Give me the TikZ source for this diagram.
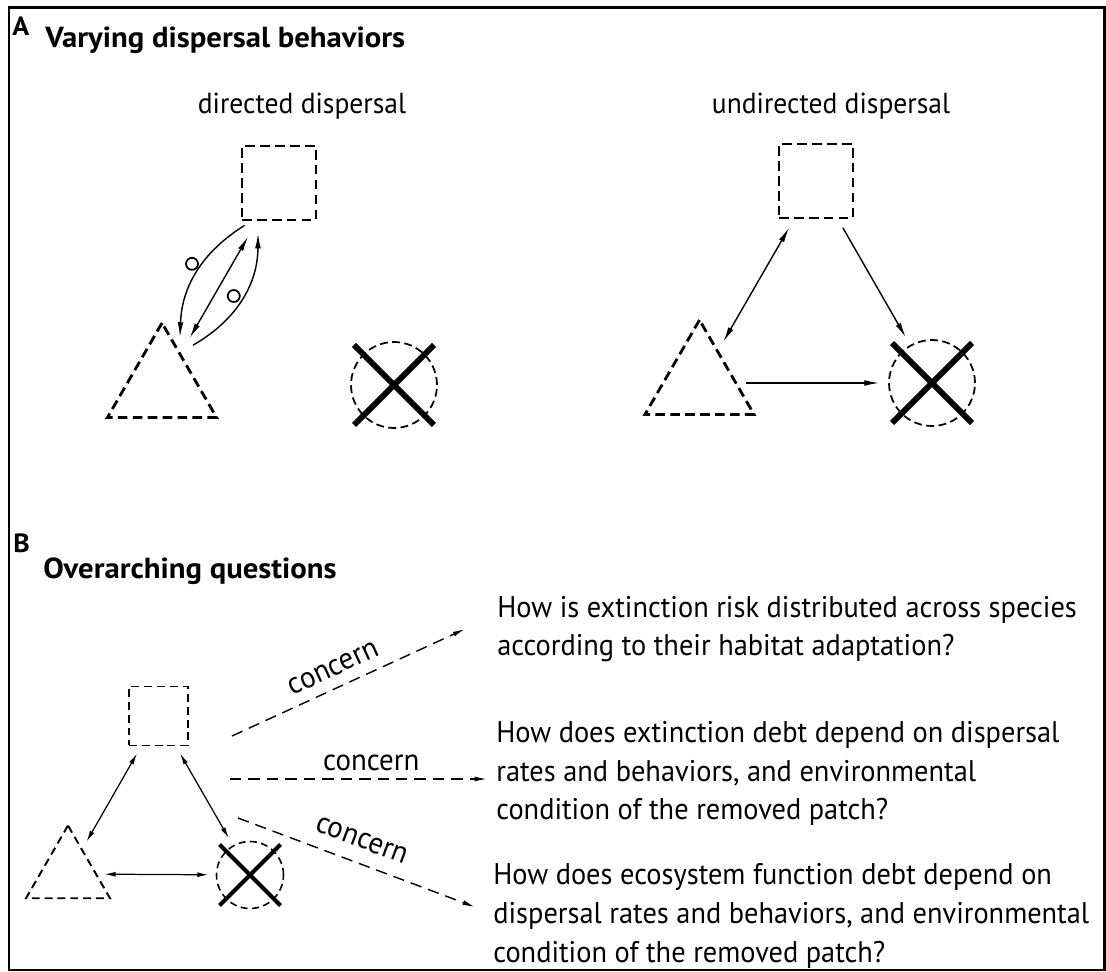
\documentclass[tikz,border=0pt]{standalone}
\usepackage{fontspec}
\setmainfont{PT Sans}[FakeStretch=0.95]
\newfontfamily\headfont{PT Sans}[FakeStretch=1.06]
\usetikzlibrary{arrows.meta, positioning, shapes.geometric}

\begin{document}
\begin{tikzpicture}[
    x=0.02cm, y=-0.02cm,
    patchA/.style={rectangle, draw, line width=1.6pt, dash pattern=on 5.5pt off 3pt, minimum size=1.48cm, inner sep=0pt},
    habA/.style={regular polygon, regular polygon sides=3, draw, line width=1.6pt, dash pattern=on 5.5pt off 3pt, minimum size=2.52cm, inner sep=0pt},
    lostA/.style={circle, draw, line width=1pt, dash pattern=on 4.5pt off 2.5pt, minimum size=1.72cm, inner sep=0pt},
    patchB/.style={rectangle, draw, line width=1.1pt, dash pattern=on 4.5pt off 2.8pt, minimum size=1.18cm, inner sep=0pt},
    habB/.style={regular polygon, regular polygon sides=3, draw, line width=1.1pt, dash pattern=on 4.5pt off 2.8pt, minimum size=1.94cm, inner sep=0pt},
    lostB/.style={circle, draw, line width=0.9pt, dash pattern=on 4pt off 2.5pt, minimum size=1.34cm, inner sep=0pt},
    knockA/.style={line width=3.4pt},
    knockB/.style={line width=2.4pt},
    flow/.style={line width=0.8pt, -{Latex[length=8.5pt, width=3.3pt]}},
    flowB/.style={line width=0.7pt, {Latex[length=6.5pt, width=2.8pt]}-{Latex[length=6.5pt, width=2.8pt]}},
    concern/.style={line width=0.8pt, dash pattern=on 6.5pt off 4pt, -{Latex[length=7pt, width=2.8pt]}},
    marker/.style={circle, draw, line width=1pt, minimum size=0.24cm, inner sep=0pt},
    tag/.style={font=\headfont\bfseries\fontsize{15}{16}\selectfont, inner sep=0pt, anchor=base west},
    heading/.style={font=\headfont\bfseries\fontsize{16.5}{18}\selectfont, inner sep=0pt, anchor=base west},
    caption/.style={font=\fontsize{16.5}{18}\selectfont, inner sep=0pt, anchor=base},
    question/.style={font=\fontsize{17}{22}\selectfont, align=left, inner sep=0pt, anchor=base west},
    edge_lbl/.style={font=\fontsize{17.3}{18}\selectfont, sloped, inner sep=0pt}
]
    \useasboundingbox (0,0) rectangle (1106,972);
    \draw[line width=1.7pt] (9,8) rectangle (1104,970);

    % A: varying dispersal behaviors
    \node[tag] (labA) at (12,36) {A};
    \node[heading] (headA) at (45,48) {Varying dispersal behaviors};
    \node[caption] (capDir) at (302,114) {directed dispersal};
    \node[caption] (capUnd) at (831,114) {undirected dispersal};

    \node[patchA] (sq1) at (279,183) {};
    \node[habA] (tri1) at (162,386) {};
    \node[lostA] (lost1) at (394,385) {};
    \draw[knockA] ([shift={(-40,-40)}]lost1.center) -- ([shift={(40,40)}]lost1.center);
    \draw[knockA] ([shift={(-40,40)}]lost1.center) -- ([shift={(40,-40)}]lost1.center);

    \draw[flow] ([shift={(4,4)}]sq1.south west) to[bend right=28] node[marker, pos=0.42, left=2pt] (m1) {} ([shift={(18,17)}]tri1.corner 1);
    \draw[flow, <->, >={Latex[length=8.5pt, width=3.3pt]}, shorten >=10pt, shorten <=10pt] (sq1) -- (tri1);
    \draw[flow] ([shift={(31,25)}]tri1.corner 1) to[bend right=30] node[marker, pos=0.47, above left=1pt] (m2) {} ([shift={(-21,12)}]sq1.south);

    \node[patchA] (sq2) at (816,181) {};
    \node[habA] (tri2) at (699.5,383) {};
    \node[lostA] (lost2) at (932,383) {};
    \draw[knockA] ([shift={(-40,-40)}]lost2.center) -- ([shift={(40,40)}]lost2.center);
    \draw[knockA] ([shift={(-40,40)}]lost2.center) -- ([shift={(40,-40)}]lost2.center);

    \draw[flow, <->, >={Latex[length=8.5pt, width=3.3pt]}, shorten >=5.5pt, shorten <=5.5pt] (sq2) -- (tri2);
    \draw[flow, shorten >=5pt, shorten <=5.5pt] (sq2) -- (lost2);
    \draw[flow, shorten >=5pt, shorten <=5pt] (tri2) -- (lost2);

    % B: overarching questions
    \node[tag] (labB) at (13,553) {B};
    \node[heading] (headB) at (43,579) {Overarching questions};

    \node[patchB] (sq3) at (158.5,716) {};
    \node[habB] (tri3) at (68,874) {};
    \node[lostB] (lost3) at (250,875) {};
    \draw[knockB] ([shift={(-30.5,-30.5)}]lost3.center) -- ([shift={(30.5,30.5)}]lost3.center);
    \draw[knockB] ([shift={(-30.5,30.5)}]lost3.center) -- ([shift={(30.5,-30.5)}]lost3.center);

    \draw[flowB, shorten >=4.5pt, shorten <=4.5pt] (sq3) -- (tri3);
    \draw[flowB, shorten >=4.5pt, shorten <=4.5pt] (sq3) -- (lost3);
    \draw[flowB, shorten >=4pt, shorten <=4pt] (tri3) -- (lost3);

    \node[question] (q1) at (497,656) {How is extinction risk distributed across species\\according to their habitat adaptation?};
    \node[question] (q2) at (496,820) {How does extinction debt depend on dispersal\\rates and behaviors, and environmental\\condition of the removed patch?};
    \node[question] (q3) at (493,962) {How does ecosystem function debt depend on\\dispersal rates and behaviors, and environmental\\condition of the removed patch?};

    \coordinate (from1) at (232,736);
    \coordinate (to1) at (465,629);
    \coordinate (from2) at (230,779);
    \coordinate (to2) at (487,779);
    \coordinate (from3) at (238,818);
    \coordinate (to3) at (475,907);
    \draw[concern] (from1) -- node[edge_lbl, pos=0.47, above=6pt] {concern} (to1);
    \draw[concern] (from2) -- node[edge_lbl, pos=0.55, above=4pt] {concern} (to2);
    \draw[concern] (from3) -- node[edge_lbl, pos=0.49, above=8pt] {concern} (to3);
\end{tikzpicture}
\end{document}
